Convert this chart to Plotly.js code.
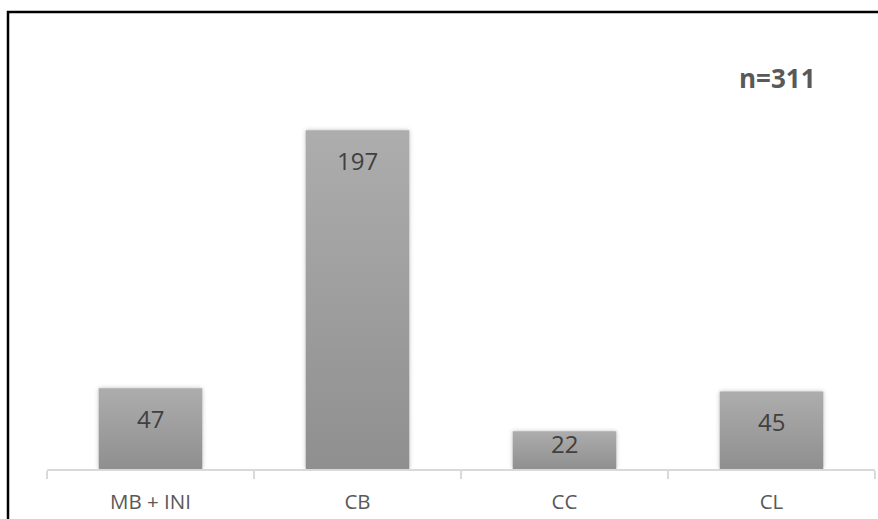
<!DOCTYPE html>
<html>
<head>
<meta charset="utf-8">
<script src="https://cdn.plot.ly/plotly-3.0.1.min.js"></script>
<style>
  html, body { margin: 0; padding: 0; background: #fff; }
  #chart { width: 878px; height: 519px; }
</style>
</head>
<body>
<div id="chart"></div>
<script>
// Distribution of cases by group
const categories = ['MB + INI', 'CB', 'CC', 'CL'];
const counts = [47, 197, 22, 45];
const totalLabel = 'n=311';

const Y_MAX = 250;
const PLOT_TOP = 39;
const PLOT_BOTTOM = 50;
const FIG_H = 519;
const plotHeight = FIG_H - PLOT_TOP - PLOT_BOTTOM;
const pxPerUnit = plotHeight / Y_MAX;

// Value labels sit just inside the top of each bar, kept clear of the baseline
const valueLabels = categories.map((c, i) => {
  const barPx = counts[i] * pxPerUnit;
  const shift = Math.min(30, barPx - 26);
  return {
    x: c, y: counts[i], xref: 'x', yref: 'y',
    text: String(counts[i]), showarrow: false,
    yanchor: 'middle', yshift: -shift,
    font: { family: 'Open Sans, sans-serif', size: 24, color: '#404040' }
  };
});

const trace = {
  type: 'bar',
  x: categories,
  y: counts,
  width: 0.5,
  marker: { color: '#a0a0a0', line: { width: 0 } },
  hoverinfo: 'skip'
};

const layout = {
  width: 878,
  height: FIG_H,
  margin: { l: 47, r: 3, t: PLOT_TOP, b: PLOT_BOTTOM },
  paper_bgcolor: '#ffffff',
  plot_bgcolor: '#ffffff',
  showlegend: false,
  xaxis: {
    type: 'category',
    showline: true,
    linecolor: '#d9d9d9',
    linewidth: 2,
    ticks: 'outside',
    tickson: 'boundaries',
    ticklen: 8,
    tickwidth: 2,
    tickcolor: '#d9d9d9',
    ticklabelstandoff: 13,
    tickfont: { family: 'Open Sans, sans-serif', size: 20.5, color: '#595959' },
    showgrid: false,
    zeroline: false,
    fixedrange: true
  },
  yaxis: {
    range: [0, Y_MAX],
    visible: false,
    showgrid: false,
    zeroline: false,
    fixedrange: true
  },
  annotations: valueLabels.concat([{
    xref: 'paper', yref: 'paper',
    x: (777 - 47) / 828, y: (469 - 78) / plotHeight,
    text: '<b>' + totalLabel + '</b>', showarrow: false,
    xanchor: 'center', yanchor: 'middle',
    font: { family: 'Open Sans, sans-serif', size: 26, color: '#595959' }
  }]),
  shapes: [{
    type: 'rect', xref: 'paper', yref: 'paper',
    x0: (8 - 47) / 828, x1: 1.2,
    y0: -0.3, y1: (469 - 12) / plotHeight,
    line: { color: '#000000', width: 2.5 },
    fillcolor: 'rgba(0,0,0,0)',
    layer: 'above'
  }]
};

Plotly.newPlot('chart', [trace], layout, { staticPlot: true, displayModeBar: false }).then(gd => {
  // Vertical shading on the bars: lighter at the top, darker at the base
  const svg = gd.querySelector('svg.main-svg');
  const ns = 'http://www.w3.org/2000/svg';
  let defs = svg.querySelector('defs');
  if (!defs) { defs = document.createElementNS(ns, 'defs'); svg.insertBefore(defs, svg.firstChild); }
  const grad = document.createElementNS(ns, 'linearGradient');
  grad.setAttribute('id', 'barShade');
  grad.setAttribute('x1', '0'); grad.setAttribute('y1', '0');
  grad.setAttribute('x2', '0'); grad.setAttribute('y2', '1');
  [['0%', '#adadad'], ['100%', '#8f8f8f']].forEach(([o, c]) => {
    const s = document.createElementNS(ns, 'stop');
    s.setAttribute('offset', o); s.setAttribute('stop-color', c);
    grad.appendChild(s);
  });
  defs.appendChild(grad);
  gd.querySelectorAll('.bars .point path').forEach(p => {
    p.style.fill = 'url(#barShade)';
    p.style.filter = 'drop-shadow(0px 0px 2px rgba(0,0,0,0.25))';
  });
});
</script>
</body>
</html>
